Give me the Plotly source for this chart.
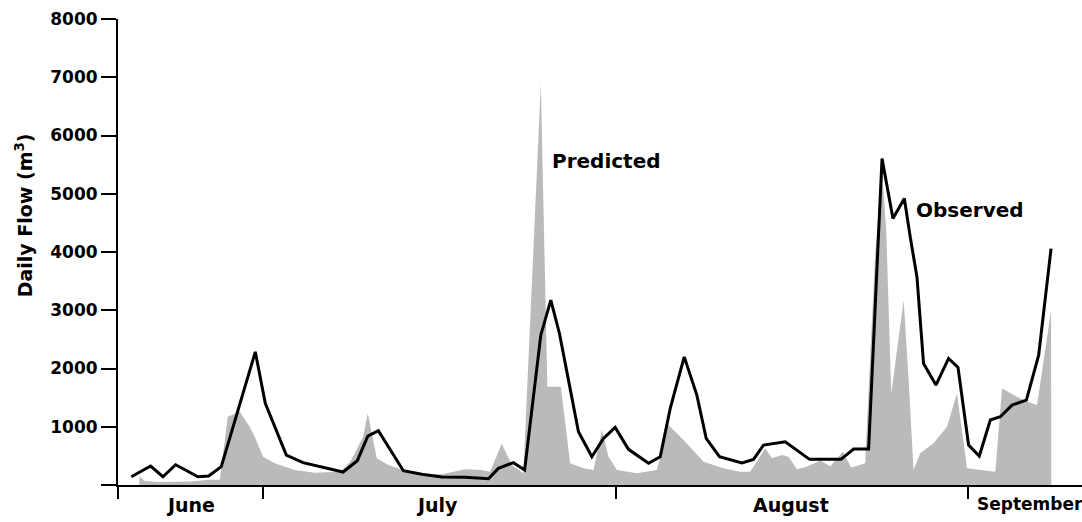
import plotly.graph_objects as go

# Day numbers counted from June 1 (= day 0); July 1 = 30, Aug 1 = 61, Sep 1 = 92
obs_day = [18.42, 20.12, 21.20, 22.32, 24.28, 25.22, 26.33, 29.32, 30.20, 32.05,
           33.52, 37.04, 38.29, 39.21, 40.14, 42.34, 43.96, 45.72, 47.77, 49.82,
           50.69, 52.01, 53.0, 54.42, 55.30, 56.06, 56.94, 57.73, 58.91, 59.93,
           60.96, 62.13, 63.89, 64.92, 65.80, 67.03, 68.14, 68.96, 70.13, 72.1,
           73.12, 74.0, 75.91, 78.05, 80.81, 81.92, 83.24, 84.42, 85.38, 86.38,
           86.90, 87.49, 88.07, 89.16, 90.27, 91.10, 92.03, 92.97, 93.94, 94.82,
           95.85, 97.11, 98.19, 99.28]
obs_flow = [142, 326, 142, 348, 142, 154, 314, 2286, 1401, 514,
            383, 223, 417, 840, 931, 245, 183, 137, 132, 108,
            286, 383, 257, 2572, 3173, 2601, 1715, 914, 485, 800,
            989, 612, 372, 485, 1315, 2200, 1543, 800, 485, 380,
            440, 686, 743, 440, 440, 617, 617, 5603, 4574, 4917,
            4258, 3572, 2087, 1715, 2173, 2018, 686, 497, 1115, 1171,
            1372, 1458, 2230, 4059]

pred_day = [19.12, 19.14, 19.6, 20.9, 23.6, 25.3, 26.2, 26.9, 27.95, 28.83,
            29.27, 30.0, 31.03, 32.79, 34.55, 36.86, 37.77, 38.80, 39.21, 40.0,
            41.02, 42.49, 43.96, 45.72, 47.77, 49.23, 49.96, 50.99, 51.87, 52.89,
            54.42, 55.0, 56.18, 57.0, 58.17, 59.05, 59.79, 60.37, 61.11, 62.87,
            64.63, 65.65, 66.97, 68.73, 70.48, 71.89, 72.83, 74.15, 74.74, 75.62,
            76.2, 76.94, 77.82, 78.99, 79.87, 80.97, 81.71, 82.94, 83.38, 83.82,
            84.42, 84.79, 85.23, 85.79, 86.32, 86.76, 87.19, 87.78, 88.95, 90.13,
            91.01, 91.89, 93.06, 94.38, 94.97, 95.99, 97.17, 98.05, 99.28, 99.3]
pred_flow = [0, 150, 70, 50, 60, 90, 90, 1170, 1257, 1000,
             830, 485, 372, 257, 211, 228, 429, 828, 1230, 458,
             343, 245, 190, 183, 270, 257, 228, 709, 343, 200,
             6889, 1686, 1686, 372, 286, 257, 943, 485, 257, 200,
             257, 1029, 772, 400, 286, 228, 228, 629, 458, 514,
             485, 270, 314, 420, 320, 570, 300, 372, 2200, 3973,
             5402, 4373, 1572, 2400, 3173, 1800, 257, 543, 715, 1000,
             1572, 286, 257, 228, 1658, 1543, 1429, 1372, 3001, 0]

y_ticks = [0, 1000, 2000, 3000, 4000, 5000, 6000, 7000, 8000]
y_labels = ["", "1000", "2000", "3000", "4000", "5000", "6000", "7000", "8000"]
month_bounds = [17.27, 30, 61, 92]
month_pos = [23.6, 45.3, 76.4, 92.55]
month_anchor = ["center", "center", "center", "left"]
month_size = [19, 19, 19, 17]
month_names = ["June", "July", "August", "September"]

X_RANGE = [17.25, 102]
FONT = "DejaVu Sans"

fig = go.Figure()
fig.add_trace(go.Scatter(
    x=pred_day, y=pred_flow, mode="lines", fill="tozeroy",
    line=dict(width=0, color="rgba(0,0,0,0)"),
    fillcolor="#bababa",
    showlegend=False, hoverinfo="skip"))
fig.add_trace(go.Scatter(
    x=obs_day, y=obs_flow, mode="lines",
    line=dict(width=3, color="black"),
    showlegend=False))

annotations = [
    dict(text="Predicted", x=55.24, y=5557, xref="x", yref="y",
         xanchor="left", yanchor="middle", showarrow=False,
         font=dict(family=FONT, size=20, weight="bold")),
    dict(text="Observed", x=87.26, y=4716, xref="x", yref="y",
         xanchor="left", yanchor="middle", showarrow=False,
         font=dict(family=FONT, size=20, weight="bold")),
    dict(text="Daily Flow (m<sup>3</sup>)", x=-0.0975, y=4630,
         xref="paper", yref="y", textangle=-90,
         xanchor="center", yanchor="middle", showarrow=False,
         font=dict(family=FONT, size=19, weight="bold")),
]
for name, pos, anc, sz in zip(month_names, month_pos, month_anchor, month_size):
    annotations.append(dict(text=name, x=pos, y=-0.016, xref="x", yref="paper",
                            xanchor=anc, yanchor="top", showarrow=False,
                            font=dict(family=FONT, size=sz, weight="bold")))

fig.update_layout(
    width=1082, height=522,
    margin=dict(l=118, r=0, t=19, b=37),
    plot_bgcolor="white", paper_bgcolor="white",
    font=dict(family=FONT, color="black"),
    xaxis=dict(range=X_RANGE, showgrid=False, zeroline=False,
               showline=True, linecolor="black", linewidth=2,
               tickvals=month_bounds, ticks="outside", ticklen=12, tickwidth=2,
               tickcolor="black", showticklabels=False, automargin=False),
    yaxis=dict(range=[0, 8000], showgrid=False, zeroline=False,
               showline=True, linecolor="black", linewidth=2,
               tickvals=y_ticks, ticktext=y_labels, ticks="outside",
               ticklen=15, tickwidth=2, tickcolor="black",
               tickfont=dict(family=FONT, size=17, weight="bold"),
               automargin=False),
    annotations=annotations,
)

fig.write_html("out.html")
